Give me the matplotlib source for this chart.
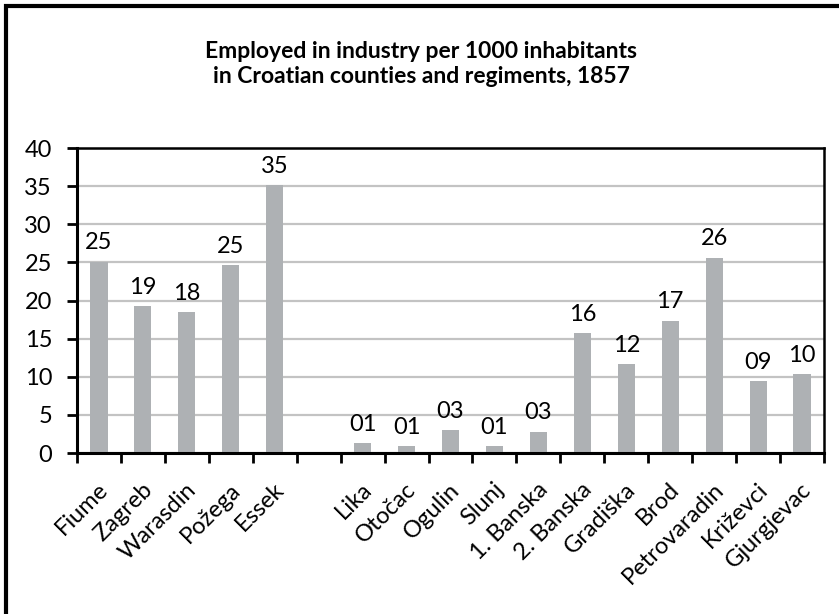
import numpy as np
import matplotlib.pyplot as plt
from matplotlib.patches import Rectangle
import matplotlib.transforms as mtransforms

# Counties, an empty slot, then the military-frontier regiments
units = ['Fiume', 'Zagreb', 'Warasdin', 'Požega', 'Essek', '',
         'Lika', 'Otočac', 'Ogulin', 'Slunj', '1. Banska', '2. Banska',
         'Gradiška', 'Brod', 'Petrovaradin', 'Križevci', 'Gjurgjevac']
employed = [25.1, 19.3, 18.45, 24.6, 35.15, np.nan,
            1.27, 0.92, 3.0, 0.9, 2.8, 15.7,
            11.67, 17.35, 25.6, 9.4, 10.36]

yticks = [0, 5, 10, 15, 20, 25, 30, 35, 40]

plt.rcParams['font.family'] = ['Lato', 'DejaVu Sans']
fs = 17

fig = plt.figure(figsize=(8.39, 6.14), dpi=100)
ax = fig.add_axes([0.0918, 0.2622, 0.8903, 0.4967])

x = np.arange(len(units))
vals = np.array(employed, dtype=float)
has = ~np.isnan(vals)
ax.bar(x[has], vals[has], width=0.39, color='#aeb1b4', zorder=2)

# value labels above the bars
for xi, v in zip(x[has], vals[has]):
    ax.annotate('{:02.0f}'.format(v), (xi, v), xytext=(0, 6),
                textcoords='offset points', ha='center', va='bottom',
                fontsize=fs, color='black')

ax.set_xlim(-0.5, len(units) - 0.5)
ax.set_ylim(0, 40)
ax.set_yticks(yticks)
ax.grid(axis='y', color='#c3c3c3', linewidth=1.6, zorder=0)
ax.set_axisbelow(True)

# category boundaries carry the tick marks, names sit at the centres
ax.set_xticks(np.arange(-0.5, len(units), 1.0))
ax.set_xticklabels([])
ax.set_xticks(x, minor=True)
ax.set_xticklabels(units, minor=True, rotation=45, ha='right',
                   va='center', rotation_mode='anchor', fontsize=fs)
ax.tick_params(axis='x', which='major', length=7, width=2, direction='out')
ax.tick_params(axis='x', which='minor', length=0, pad=24)
ax.tick_params(axis='y', length=7, width=2, direction='out', pad=11,
               labelsize=fs)
shift = mtransforms.ScaledTranslation(6 / 100, 0, fig.dpi_scale_trans)
for lab in ax.xaxis.get_minorticklabels():
    lab.set_transform(lab.get_transform() + shift)

for side in ['left', 'bottom']:
    ax.spines[side].set_linewidth(2.2)
for side in ['top', 'right']:
    ax.spines[side].set_linewidth(1.8)

fig.text(0.502, 0.896, 'Employed in industry per 1000 inhabitants\n'
         'in Croatian counties and regiments, 1857',
         ha='center', va='center', fontsize=16.5, fontweight='bold',
         linespacing=1.25)

# outer frame
fig.patches.append(Rectangle((5.5 / 839, -0.1), 1.2, (608.5 / 614) + 0.1,
                             transform=fig.transFigure, fill=False,
                             edgecolor='black', linewidth=3))

fig.savefig('out.png', dpi=100)
